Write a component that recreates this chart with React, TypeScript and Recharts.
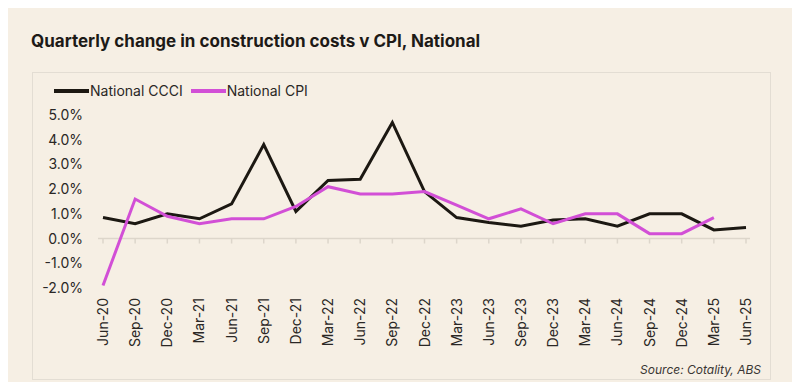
import React from 'react';
import { LineChart, Line, XAxis, YAxis, ReferenceLine, Legend } from 'recharts';

const categories = ['Jun-20','Sep-20','Dec-20','Mar-21','Jun-21','Sep-21','Dec-21','Mar-22','Jun-22','Sep-22','Dec-22','Mar-23','Jun-23','Sep-23','Dec-23','Mar-24','Jun-24','Sep-24','Dec-24','Mar-25','Jun-25'];
const ccciValues = [0.85,0.6,1.0,0.8,1.4,3.8,1.1,2.35,2.4,4.7,1.9,0.85,0.65,0.5,0.75,0.8,0.5,1.0,1.0,0.35,0.45];
const cpiValues: (number | null)[] = [-1.9,1.6,0.9,0.6,0.8,0.8,1.3,2.1,1.8,1.8,1.9,1.35,0.8,1.2,0.6,1.0,1.0,0.2,0.2,0.85,null];
const yTicks = [-2,-1,0,1,2,3,4,5];

const data = categories.map((c, i) => ({ period: c, ccci: ccciValues[i], cpi: cpiValues[i] }));

const BG = '#f6efe4';
const TEXT = '#2a2725';
const FONT = 'Inter, "Noto Sans", sans-serif';
const BLACK = '#1c1812';
const PINK = '#d24fd6';

const XTick = (props: any) => {
  const { x, y, payload } = props;
  return (
    <g transform={`translate(${x},${y + 2})`}>
      <text x={0} y={0} transform="rotate(-90)" textAnchor="end" dy="0.36em" fill={TEXT} fontSize={14} fontFamily={FONT}>
        {payload.value}
      </text>
    </g>
  );
};

const LegendContent = (props: any) => {
  const { payload } = props;
  return (
    <div style={{ display: 'flex', alignItems: 'center', fontFamily: FONT, fontSize: 14, color: TEXT }}>
      {payload.map((p: any) => (
        <div key={p.value} style={{ display: 'flex', alignItems: 'center', marginRight: 8 }}>
          <div style={{ width: 35, height: 4, background: p.color, marginRight: 1 }} />
          <span>{p.value}</span>
        </div>
      ))}
    </div>
  );
};

export default function App() {
  return (
    <div style={{ position: 'relative', width: 800, height: 390, margin: -8, background: BG, overflow: 'hidden', fontFamily: FONT }}>
      <div style={{ position: 'absolute', left: 31, top: 31, fontSize: 17, fontWeight: 700, color: '#1d1a17', letterSpacing: 0, whiteSpace: 'nowrap' }}>
        Quarterly change in construction costs v CPI, National
      </div>
      <div style={{ position: 'absolute', left: 32, top: 72, width: 739, height: 308, border: '1.5px solid #e3ddd3', boxSizing: 'border-box' }} />
      <div style={{ position: 'absolute', left: 0, top: 0 }}>
        <LineChart width={800} height={390} data={data} margin={{ top: 115, right: 50, bottom: 32, left: 0 }}>
          <XAxis dataKey="period" axisLine={false} tickLine={false} tick={<XTick />} interval={0} height={70} padding={{ left: 5, right: 4 }} />
          <YAxis domain={[-2, 5]} ticks={yTicks} width={98} axisLine={false} tickLine={false} tickMargin={9}
            tickFormatter={(v: number) => `${v.toFixed(1)}%`} tick={{ fill: TEXT, fontSize: 14, fontFamily: FONT }} />
          <ReferenceLine y={0} stroke="#ddd6cb" strokeWidth={1.5} />
          {categories.map((c) => (
            <ReferenceLine key={c} segment={[{ x: c, y: 0 }, { x: c, y: -0.2 }]} stroke="#ddd6cb" strokeWidth={1.5} />
          ))}
          <Legend layout="horizontal" verticalAlign="middle" align="center" content={<LegendContent />}
            wrapperStyle={{ position: 'absolute', top: 82, left: 54, width: 400 }} />
          <Line type="linear" dataKey="ccci" name="National CCCI" stroke={BLACK} strokeWidth={3} dot={false} isAnimationActive={false} />
          <Line type="linear" dataKey="cpi" name="National CPI" stroke={PINK} strokeWidth={3} dot={false} isAnimationActive={false} />
        </LineChart>
      </div>
      <div style={{ position: 'absolute', right: 39, top: 362, fontSize: 12, fontStyle: 'italic', color: '#3a3633' }}>
        Source: Cotality, ABS
      </div>
    </div>
  );
}
